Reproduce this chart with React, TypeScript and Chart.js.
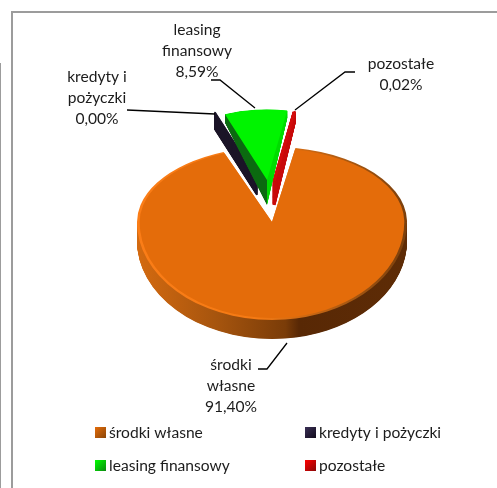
import React, { useEffect, useRef } from "react";
import { Chart, registerables } from "chart.js";

Chart.register(...registerables);

const categories = ["środki własne", "kredyty i pożyczki", "leasing finansowy", "pozostałe"];
// 0.004 is the estimate behind the printed "0,00%": the slice is a visible sliver.
const shares = [91.4, 0.004, 8.59, 0.02];

const topColors = ["#e46c0a", "#1c1528", "#00f400", "#d30b0b"];
const sliceBorders = [0, 2, 0, 3.5];
const drawOrder = [0, 1, 3, 2];

const FONT = "Lato, Carlito, sans-serif";
const TEXT = "#1c1c1c";

// How each slice is pulled out of the pie and tilted (style only, not data)
const pullX = [0, -15, -5, 2];
const pullY = [0, -44, -42, -41];
const shrink = [1, 0.87, 0.87, 0.87];
const tiltFar = [0.556, 0.522, 0.522, 0.522];
const tiltNear = [0.726, 0.522, 0.522, 0.522];
const wallNear = [19, 17, 25, 24];
const wallFar = [19, 17, 7, 10];

const labelLines = [["środki", "własne"], ["kredyty i", "pożyczki"], ["leasing", "finansowy"], ["pozostałe"]];
const labelX = [231, 97, 197, 401];
const labelY = [365, 77, 30, 64];
const leaders = [
  [[287, 343], [267, 369], [258, 369]],
  [[127, 110], [215, 114]],
  [[211, 80], [220, 80], [255, 108]],
  [[355, 72], [345, 72], [295, 110]],
];
const legendX = [95, 305, 95, 305];
const legendY = [427, 427, 460, 460];

const pct = (v: number) => v.toFixed(2).replace(".", ",") + "%";

function arcOptions(fill: any, bw: number) {
  return {
    backgroundColor: fill,
    borderColor: fill,
    borderWidth: bw,
    borderAlign: "center",
    offset: 0,
    spacing: 0,
    circular: true,
    borderRadius: 0,
    selfJoin: false,
    borderJoinStyle: "bevel",
    borderDash: [],
    borderDashOffset: 0,
  };
}

const pie3d = {
  id: "pie3d",
  beforeDraw(chart: any) {
    const c = chart.ctx;
    c.save();
    c.fillStyle = "#ffffff";
    c.fillRect(0, 0, chart.width, chart.height);
    c.fillStyle = "#9c9c9c";
    c.fillRect(11, 11, chart.width - 11, 2);
    c.fillRect(11, 11, 2, chart.height - 11);
    c.fillRect(0, 63, 1, chart.height - 63);
    c.restore();
  },
  beforeDatasetDraw(chart: any) {
    const c = chart.ctx;
    const arcs = chart.getDatasetMeta(0).data;

    const paint = (el: any, i: number, k: number, extra: number, inset: number, fill: any, bw: number) => {
      const saved = el.options;
      el.options = arcOptions(fill, bw);
      c.save();
      c.translate(el.x + pullX[i], el.y + pullY[i] + extra);
      c.scale(shrink[i] * inset, k * inset);
      c.translate(-el.x, -el.y);
      el.draw(c);
      c.restore();
      el.options = saved;
    };
    const clipRow = (fromY: number, toY: number) => {
      c.beginPath();
      c.rect(0, fromY, chart.width, toY - fromY);
      c.clip();
    };
    const hGrad = (el: any, stops: [number, string][]) => {
      const g = c.createLinearGradient(el.x - el.outerRadius, 0, el.x + el.outerRadius, 0);
      stops.forEach(([p, col]) => g.addColorStop(p, col));
      return g;
    };

    drawOrder.forEach((i) => {
      const el = arcs[i];
      const bw = sliceBorders[i];
      if (i === 0) {
        const rim = hGrad(el, [[0, "#d46a10"], [0.3, "#a5540e"], [0.55, "#7a3c08"], [0.6, "#582805"], [1, "#5e2c06"]]);
        for (let d = wallNear[0]; d >= 1; d -= 0.5) {
          c.save();
          clipRow(el.y + d, chart.height);
          paint(el, 0, tiltNear[0], d, 1, rim, 0);
          c.restore();
        }
        const bevel = hGrad(el, [[0, "#fb7d17"], [0.45, "#f47a14"], [0.75, "#b05c12"], [1, "#7a3f0c"]]);
        [
          [0, el.y, tiltFar[0]],
          [el.y, chart.height, tiltNear[0]],
        ].forEach(([a, b, k]) => {
          c.save();
          clipRow(a, b);
          paint(el, 0, k, 0, 1, bevel, 0);
          paint(el, 0, k, 0, 0.98, topColors[0], 0);
          c.restore();
        });
        return;
      }
      const wallFill =
        i === 2
          ? hGrad(el, [[0, "#0b6a10"], [0.5, "#0b6a10"], [0.5, "#00dc00"], [1, "#00dc00"]])
          : i === 1
          ? "#1c1528"
          : "#c80c0c";
      for (let d = 1; d >= 0.02; d -= 0.02) {
        const kt = tiltFar[i] + (d * (wallNear[i] - wallFar[i])) / el.outerRadius;
        paint(el, i, kt, d * wallNear[i], 1, wallFill, bw);
      }
      paint(el, i, tiltFar[i], 0, 1, topColors[i], bw);
    });
    return false;
  },
  afterDatasetsDraw(chart: any) {
    const c = chart.ctx;
    c.save();
    c.font = `15.6px ${FONT}`;
    c.textBaseline = "middle";
    c.textAlign = "center";
    c.fillStyle = TEXT;
    labelLines.forEach((lines, i) => {
      [...lines, pct(shares[i])].forEach((t, j) => c.fillText(t, labelX[i], labelY[i] + j * 21));
    });
    c.strokeStyle = "#000000";
    c.lineWidth = 1.3;
    leaders.forEach((pts) => {
      c.beginPath();
      pts.forEach(([x, y], j) => (j ? c.lineTo(x, y) : c.moveTo(x, y)));
      c.stroke();
    });
    const sideTones = ["#8a4608", "#120c1c", "#0b8a10", "#8a0808"];
    const lightTones = ["#e46c0a", "#3a2f55", "#00ff00", "#ff0000"];
    c.textAlign = "left";
    categories.forEach((name, i) => {
      const x = legendX[i];
      const y = legendY[i];
      const g = c.createLinearGradient(x, y, x + 11, y + 11);
      g.addColorStop(0, lightTones[i]);
      g.addColorStop(1, sideTones[i]);
      c.fillStyle = g;
      c.fillRect(x, y, 11, 11);
      c.fillStyle = TEXT;
      c.fillText(name, x + 14, y + 6);
    });
    c.restore();
  },
};

export default function App() {
  const ref = useRef<HTMLCanvasElement>(null);
  useEffect(() => {
    document.body.style.margin = "0";
    const chart = new Chart(ref.current as HTMLCanvasElement, {
      type: "pie",
      data: {
        labels: categories,
        datasets: [{ data: shares, backgroundColor: topColors, borderColor: topColors, borderWidth: sliceBorders }],
      },
      options: {
        responsive: false,
        animation: false,
        radius: 135,
        rotation: 10,
        layout: { padding: { left: 47, right: 0, top: 0, bottom: 44 } },
        plugins: { legend: { display: false }, title: { display: false }, tooltip: { enabled: false } },
      } as any,
      plugins: [pie3d as any],
    });
    return () => chart.destroy();
  }, []);
  return <canvas ref={ref} width={497} height={488} style={{ display: "block", filter: "blur(0.35px)" }} />;
}
